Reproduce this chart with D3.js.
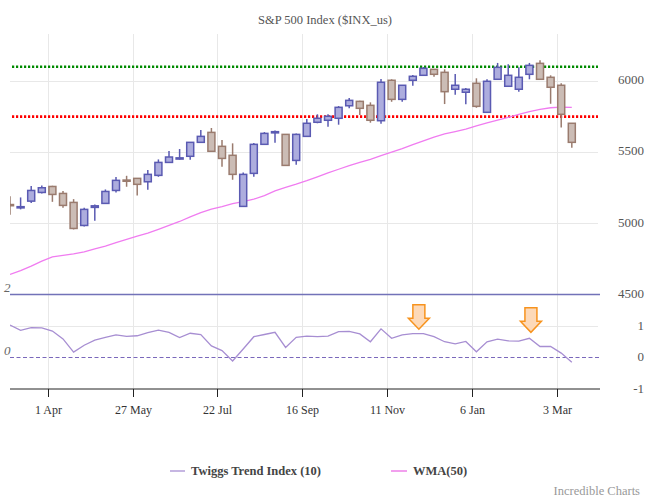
<!DOCTYPE html>
<html><head><meta charset="utf-8">
<script src="https://cdn.jsdelivr.net/npm/d3@7"></script>
<style>body{margin:0;background:#fff}svg{display:block;font-family:"Liberation Serif","Times New Roman",serif}</style>
</head><body><svg id="c" width="650" height="500"></svg>
<script>
// ---- data (weekly candles, week-start Mondays) ----
const weeks = ["2024-03-04","2024-03-11","2024-03-18","2024-03-25","2024-04-01","2024-04-08","2024-04-15","2024-04-22","2024-04-29",
"2024-05-06","2024-05-13","2024-05-20","2024-05-27","2024-06-03","2024-06-10","2024-06-17","2024-06-24","2024-07-01","2024-07-08",
"2024-07-15","2024-07-22","2024-07-29","2024-08-05","2024-08-12","2024-08-19","2024-08-26","2024-09-02","2024-09-09","2024-09-16",
"2024-09-23","2024-09-30","2024-10-07","2024-10-14","2024-10-21","2024-10-28","2024-11-04","2024-11-11","2024-11-18","2024-11-25",
"2024-12-02","2024-12-09","2024-12-16","2024-12-23","2024-12-30","2025-01-06","2025-01-13","2025-01-20","2025-01-27","2025-02-03",
"2025-02-10","2025-02-17","2025-02-24","2025-03-03","2025-03-10"];
const open  = [5132,5112,5156,5217,5259,5210,5147,4985,5112,5140,5231,5304,5316,5292,5337,5428,5455,5471,5569,5639,5541,5478,5119,5351,5555,5637,5625,5442,5611,5710,5724,5738,5826,5857,5829,5721,6005,5871,6005,6040,6082,6061,5942,5921,5984,5780,6012,5963,5942,6047,6124,6026,5970,5703];
const high  = [5191,5182,5262,5266,5264,5227,5170,5109,5133,5238,5325,5334,5316,5374,5449,5508,5522,5569,5655,5670,5585,5562,5358,5564,5641,5653,5625,5632,5733,5766,5766,5824,5880,5862,5850,6014,6012,5970,6042,6098,6085,6082,6049,5951,6019,6012,6127,6117,6096,6127,6146,6040,5984,5703];
const low   = [5060,5098,5142,5210,5151,5109,4957,4978,5018,5140,5217,5257,5196,5236,5327,5428,5447,5447,5569,5506,5397,5306,5119,5327,5555,5566,5407,5411,5611,5703,5679,5693,5808,5761,5707,5700,5854,5854,5967,6040,6030,5838,5904,5836,5812,5780,6012,5963,5925,6012,6012,5840,5674,5531];
const close = [5125,5117,5231,5250,5203,5126,4964,5098,5123,5224,5302,5302,5274,5344,5428,5466,5460,5569,5611,5506,5456,5344,5344,5555,5632,5644,5407,5625,5703,5738,5752,5815,5864,5808,5724,5991,5871,5970,6033,6089,6047,5925,5970,5942,5822,5998,6096,6040,6026,6110,6012,5956,5766,5569];
const wma50 = [4641,4668,4700,4735,4765,4775,4785,4800,4820,4840,4865,4888,4910,4932,4958,4985,5013,5045,5075,5100,5118,5138,5152,5170,5195,5228,5252,5275,5300,5327,5355,5380,5405,5428,5450,5475,5500,5525,5553,5580,5606,5628,5645,5662,5685,5705,5725,5745,5765,5785,5800,5812,5817,5815];
const twiggs = [1.03,0.86,0.95,0.94,0.84,0.59,0.17,0.39,0.55,0.64,0.72,0.67,0.69,0.79,0.87,0.80,0.63,0.77,0.73,0.37,0.22,-0.11,0.27,0.66,0.73,0.80,0.32,0.64,0.68,0.66,0.68,0.82,0.83,0.75,0.50,0.91,0.61,0.72,0.76,0.76,0.66,0.50,0.43,0.51,0.18,0.50,0.58,0.53,0.52,0.61,0.35,0.35,0.14,-0.15];
const priceTicks = [4500,5000,5500,6000];
const twiggsTicks = [1,0,-1];
const dateTicks = ["2024-04-01","2024-05-27","2024-07-22","2024-09-16","2024-11-11","2025-01-06","2025-03-03"];
const dateTickLabels = ["1 Apr","27 May","22 Jul","16 Sep","11 Nov","6 Jan","3 Mar"];
const resistance = 6100, support = 5750;
const signalDates = ["2024-12-02","2025-02-14"];
const signalValues = [0.9,0.8];
const title = "S&P 500 Index ($INX_us)";

// ---- layout ----
const parse = d3.utcParse("%Y-%m-%d");
const svg = d3.select("#c");
const L = 10, R = 600, topY = 34, axisY = 389;
const x = d3.scaleUtc().domain([Date.UTC(2024,2,7), Date.UTC(2025,2,30,7)]).range([L, 598]);
const y = d3.scaleLinear().domain([4500, 6000]).range([294.5, 81]);
const yi = d3.scaleLinear().domain([-1, 2]).range([389, 294.5]);
const cx = i => x(d3.utcDay.offset(parse(weeks[i]), 3));

svg.append("rect").attr("width",650).attr("height",500).attr("fill","#fff");
svg.append("defs").append("clipPath").attr("id","clip").append("rect")
  .attr("x",L).attr("y",topY).attr("width",R-L).attr("height",axisY-topY);

// grid
const grid = svg.append("g").attr("stroke","#e8e8e8").attr("stroke-width",1);
dateTicks.forEach(d => { const xx = Math.round(x(parse(d)))+0.5;
  grid.append("line").attr("x1",xx).attr("x2",xx).attr("y1",topY).attr("y2",axisY); });
priceTicks.slice(1).forEach(v => grid.append("line").attr("x1",L).attr("x2",598).attr("y1",Math.round(y(v))+0.5).attr("y2",Math.round(y(v))+0.5));
grid.append("line").attr("x1",L).attr("x2",598).attr("y1",Math.round(yi(1))+0.5).attr("y2",Math.round(yi(1))+0.5);

// panel separator (4500 / 2)
svg.append("line").attr("x1",L).attr("x2",R).attr("y1",y(4500)).attr("y2",y(4500))
  .attr("stroke","#7272b8").attr("stroke-width",1.6);
// zero line
svg.append("line").attr("x1",L).attr("x2",R).attr("y1",yi(0)).attr("y2",yi(0))
  .attr("stroke","#7a68bb").attr("stroke-width",1).attr("stroke-dasharray","4,2.5");

// support/resistance
svg.append("line").attr("x1",12).attr("x2",598).attr("y1",y(resistance)).attr("y2",y(resistance))
  .attr("stroke","#008a00").attr("stroke-width",2.6).attr("stroke-dasharray","2.2,1.8");
svg.append("line").attr("x1",12).attr("x2",598).attr("y1",y(support)).attr("y2",y(support))
  .attr("stroke","#ff0000").attr("stroke-width",2.6).attr("stroke-dasharray","2.2,1.8");

const plot = svg.append("g").attr("clip-path","url(#clip)");
// WMA
plot.append("path").datum(wma50).attr("fill","none").attr("stroke","#f07cf0").attr("stroke-width",1.3)
  .attr("d", d3.line().x((d,i)=>cx(i)).y(d=>y(d)));

// candles
const idx = d3.range(weeks.length);
const cg = plot.append("g").selectAll("g").data(idx).join("g");
const colS = i => close[i] >= open[i] ? "#5a5ab2" : "#9a7b6e";
const colF = i => close[i] >= open[i] ? "#adadde" : "#cbbcb5";
cg.append("line").attr("x1",cx).attr("x2",cx).attr("y1",i=>y(high[i])).attr("y2",i=>y(low[i]))
  .attr("stroke",colS).attr("stroke-width",1.5);
cg.append("rect").attr("x",i=>cx(i)-3.5).attr("width",7)
  .attr("y",i=>y(Math.max(open[i],close[i])))
  .attr("height",i=>Math.max(1.2, Math.abs(y(open[i])-y(close[i]))))
  .attr("fill",colF).attr("stroke",colS).attr("stroke-width",1.5);

// Twiggs
plot.append("path").datum(twiggs).attr("fill","none").attr("stroke","#a78ed2").attr("stroke-width",1.3)
  .attr("d", d3.line().x((d,i)=>cx(i)).y(d=>yi(d)));

// signal arrows
signalDates.forEach((d,j) => {
  const ax = x(parse(d)), ty = yi(signalValues[j]);
  const p = `M${ax-6},${ty-24.5} L${ax+6},${ty-24.5} L${ax+6},${ty-11} L${ax+10.5},${ty-11} L${ax},${ty} L${ax-10.5},${ty-11} L${ax-6},${ty-11} Z`;
  svg.append("path").attr("d",p).attr("fill","#fdd9b8").attr("stroke","#f7931e").attr("stroke-width",1.5).attr("stroke-linejoin","miter");
});

// x axis
svg.append("line").attr("x1",L).attr("x2",R).attr("y1",axisY).attr("y2",axisY).attr("stroke","#222").attr("stroke-width",1);
dateTicks.forEach((d,i) => {
  const xx = Math.round(x(parse(d)))+0.5;
  svg.append("line").attr("x1",xx).attr("x2",xx).attr("y1",axisY).attr("y2",axisY+8).attr("stroke","#222");
  svg.append("text").attr("x",xx).attr("y",axisY+25).attr("text-anchor","middle")
    .attr("font-size",12).attr("fill","#333").text(dateTickLabels[i]);
});

// right axis labels
priceTicks.forEach(v => svg.append("text").attr("x",644).attr("y",y(v)).attr("dy","0.25em")
  .attr("text-anchor","end").attr("font-size",13).attr("fill","#555").text(v));
twiggsTicks.forEach(v => svg.append("text").attr("x",644).attr("y",yi(v)).attr("dy","0.3em")
  .attr("text-anchor","end").attr("font-size",13).attr("fill","#555").text(v));

// left italic indicator labels
[2,0].forEach(v => svg.append("text").attr("x",4).attr("y",yi(v)-3).attr("font-size",13)
  .attr("font-style","italic").attr("fill","#666").text(v));

// title
svg.append("text").attr("x",325).attr("y",24).attr("text-anchor","middle").attr("font-size",12.5)
  .attr("fill","#555").text(title);

// legend
const lg = svg.append("g").attr("font-size",12.5).attr("font-weight","bold").attr("fill","#444");
lg.append("line").attr("x1",170).attr("x2",185).attr("y1",471).attr("y2",471).attr("stroke","#c6b6e2").attr("stroke-width",2);
lg.append("text").attr("x",191).attr("y",475).text("Twiggs Trend Index (10)");
lg.append("line").attr("x1",391).attr("x2",407).attr("y1",471).attr("y2",471).attr("stroke","#f2a0ee").attr("stroke-width",2);
lg.append("text").attr("x",413).attr("y",475).text("WMA(50)");

svg.append("text").attr("x",640).attr("y",495).attr("text-anchor","end").attr("font-size",12.5)
  .attr("fill","#999").text("Incredible Charts");
</script></body></html>
